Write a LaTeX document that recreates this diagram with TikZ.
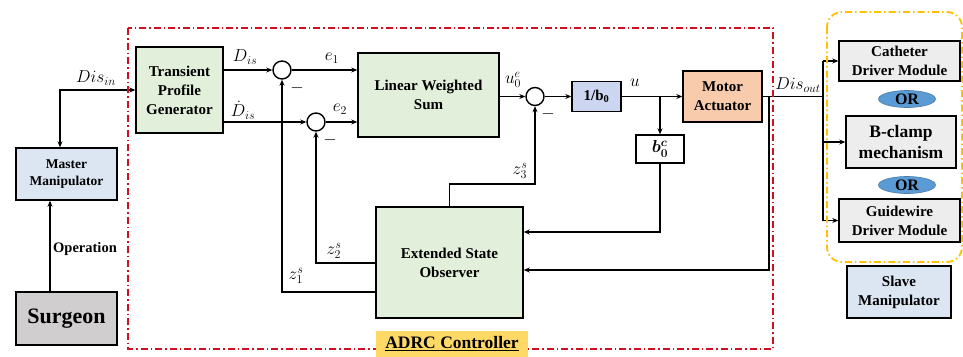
\documentclass[tikz,border=0pt]{standalone}
\usepackage{fontspec}
\usepackage{bm}
\setmainfont{Liberation Serif}[BoldFont={Liberation Serif Bold}]
\newfontfamily\lserif{Liberation Serif}[BoldFont={Liberation Serif Bold}]
\usetikzlibrary{arrows.meta,shapes.geometric}
\definecolor{cblue}{HTML}{DCE6F2}
\definecolor{cgreen}{HTML}{E2EFDA}
\definecolor{cgray}{HTML}{D0CECE}
\definecolor{corange}{HTML}{F8CBAD}
\definecolor{cperi}{HTML}{CDD6F1}
\definecolor{clgray}{HTML}{EDEDED}
\definecolor{cor}{HTML}{5B9BD5}
\definecolor{cadrc}{HTML}{FFD966}
\definecolor{cred}{HTML}{D01020}
\definecolor{cyel}{HTML}{FFC000}
\begin{document}
\begin{tikzpicture}[x=1pt,y=-1pt,
  box/.style={draw, line width=1.4pt, align=center, inner sep=0pt, font=\lserif\bfseries\fontsize{15}{19}\selectfont},
  sumc/.style={draw, circle, line width=1.4pt, minimum size=18pt, inner sep=0pt},
  arr/.style={line width=1.3pt, -{Stealth[length=6pt,width=5pt]}},
  ln/.style={line width=1.3pt},
  lbl/.style={font=\fontsize{17}{19}\selectfont, inner sep=0pt},
  orell/.style={ellipse, fill=cor, draw=cor!80!black, line width=0.6pt, minimum width=57pt, minimum height=17pt, inner sep=0pt, font=\lserif\bfseries\fontsize{16}{18}\selectfont},
  dashdot/.style={dash pattern=on 7pt off 3pt on 1.5pt off 3pt}
]
\useasboundingbox[fill=white] (0,0) rectangle (963,356);

% left side
\node[box, fill=cblue, minimum width=101pt, minimum height=52pt, font=\lserif\bfseries\fontsize{13.5}{17}\selectfont] (master) at (66.5,174) {Master\\Manipulator};
\node[box, fill=cgray, minimum width=101pt, minimum height=53pt, font=\lserif\bfseries\fontsize{22}{26}\selectfont] (surgeon) at (66.5,318.5) {Surgeon};
\coordinate (op) at (50,0);
\draw[arr, line width=2pt] (surgeon.north -| op) -- (master.south -| op);
\node[font=\lserif\bfseries\fontsize{14.5}{17}\selectfont, anchor=west, inner sep=0pt] (lop) at (53,249) {Operation};

% controller blocks
\node[box, fill=cgreen, minimum width=87pt, minimum height=86pt] (tpg) at (179.5,90) {Transient\\Profile\\Generator};
\node[box, fill=cgreen, minimum width=141pt, minimum height=84pt] (lws) at (428.5,95) {Linear Weighted\\Sum};
\node[box, fill=cgreen, minimum width=147pt, minimum height=111pt] (eso) at (449.5,262.5) {Extended State\\Observer};
\node[box, fill=cperi, minimum width=49pt, minimum height=30pt] (inv) at (596.5,96.5) {1/b$_{\mathbf{0}}$};
\node[box, fill=white, minimum width=48pt, minimum height=28pt, font=\fontsize{17}{19}\selectfont] (bc) at (660,149) {$\bm{b}_{\bm{0}}^{\bm{c}}$};
\node[box, fill=corange, minimum width=79pt, minimum height=51pt] (motor) at (722.5,96.5) {Motor\\Actuator};

\node[sumc] (s1) at (282,70) {};
\node[sumc] (s2) at (316,122) {};
\node[sumc] (s3) at (535,96.5) {};

% input
\coordinate (din) at (60,90);
\draw[line width=1.3pt, {Stealth[length=6pt,width=5pt]}-{Stealth[length=6pt,width=5pt]}] (master.north -| din) -- (din) -- (tpg.west |- din);
\node[lbl] (ldin) at (96,78) {$Dis_{in}$};

% forward path
\draw[arr] (tpg.east |- s1) -- (s1.west);
\draw[arr] (tpg.east |- s2) -- (s2.west);
\draw[arr] (s1.east) -- (lws.west |- s1);
\draw[arr] (s2.east) -- (lws.west |- s2);
\draw[arr] (lws.east |- s3) -- (s3.west);
\draw[arr] (s3.east) -- (inv.west);
\draw[arr] (inv.east) -- (motor.west);
\coordinate (j0) at (660,96.5);
\draw[arr] (j0) -- (bc.north);

\node[lbl] (ld1) at (245,57) {$D_{is}$};
\node[lbl] (ld2) at (243,110) {$\dot{D}_{is}$};
\node[lbl] (le1) at (332,58) {$e_1$};
\node[lbl] (le2) at (340,109) {$e_2$};
\node[lbl] (lu0) at (513,80) {$u_0^e$};
\node[lbl] (lu) at (635,83) {$u$};
\node[lbl] (m1) at (297,88) {$-$};
\node[lbl] (m2) at (330,140) {$-$};
\node[lbl] (m3) at (548,114) {$-$};

% feedback
\coordinate (fb1) at (660,232);
\draw[arr] (bc.south) -- (fb1) -- (eso.east |- fb1);
\coordinate (fbA) at (769,96.5);
\coordinate (fbB) at (769,270);
\draw[arr] (fbA) -- (fbB) -- (eso.east |- fbB);

\coordinate (z3c) at (535,184);
\draw[arr] (eso.north) -- (eso.north |- z3c) -- (z3c) -- (s3.south);
\coordinate (z2c) at (316,263);
\draw[arr] (eso.west |- z2c) -- (z2c) -- (s2.south);
\coordinate (z1c) at (282,292);
\draw[arr] (eso.west |- z1c) -- (z1c) -- (s1.south);
\node[lbl] (lz3) at (520,171) {$z_3^s$};
\node[lbl] (lz2) at (334,251) {$z_2^s$};
\node[lbl] (lz1) at (296,276) {$z_1^s$};

% output side
\node[box, fill=clgray, minimum width=121pt, minimum height=40pt] (cath) at (899.5,61) {Catheter\\Driver Module};
\node[orell] (or1) at (907,99) {OR};
\node[box, fill=clgray, minimum width=110pt, minimum height=52pt, font=\lserif\bfseries\fontsize{17.5}{21}\selectfont] (bcl) at (901,142) {B-clamp\\mechanism};
\node[orell] (or2) at (907,185) {OR};
\node[box, fill=clgray, minimum width=121pt, minimum height=43pt] (guide) at (899.5,220.5) {Guidewire\\Driver Module};
\node[box, fill=cblue, minimum width=104pt, minimum height=52pt] (slave) at (899,292) {Slave\\Manipulator};

\coordinate (jr) at (823,96.5);
\coordinate (jt) at (823,61);
\coordinate (jm) at (823,142);
\coordinate (jb) at (823,220.5);
\draw[ln] (motor.east) -- (jr);
\draw[ln] (jt) -- (jb);
\draw[arr] (jt) -- (cath.west);
\draw[arr] (jm) -- (bcl.west);
\draw[arr] (jb) -- (guide.west);
\node[lbl] (ldout) at (798,85) {$Dis_{out}$};

% frames
\draw[cred, line width=1.8pt, dashdot] (128,28) rectangle (773,349);
\draw[cyel, line width=1.8pt, dashdot, rounded corners=15pt] (827,12) rectangle (962,262);
\node[fill=cadrc, minimum width=152pt, minimum height=26pt, inner sep=0pt, font=\lserif\bfseries\fontsize{17.5}{20}\selectfont] (adrc) at (452,344) {\underline{ADRC Controller}};
\end{tikzpicture}
\end{document}
